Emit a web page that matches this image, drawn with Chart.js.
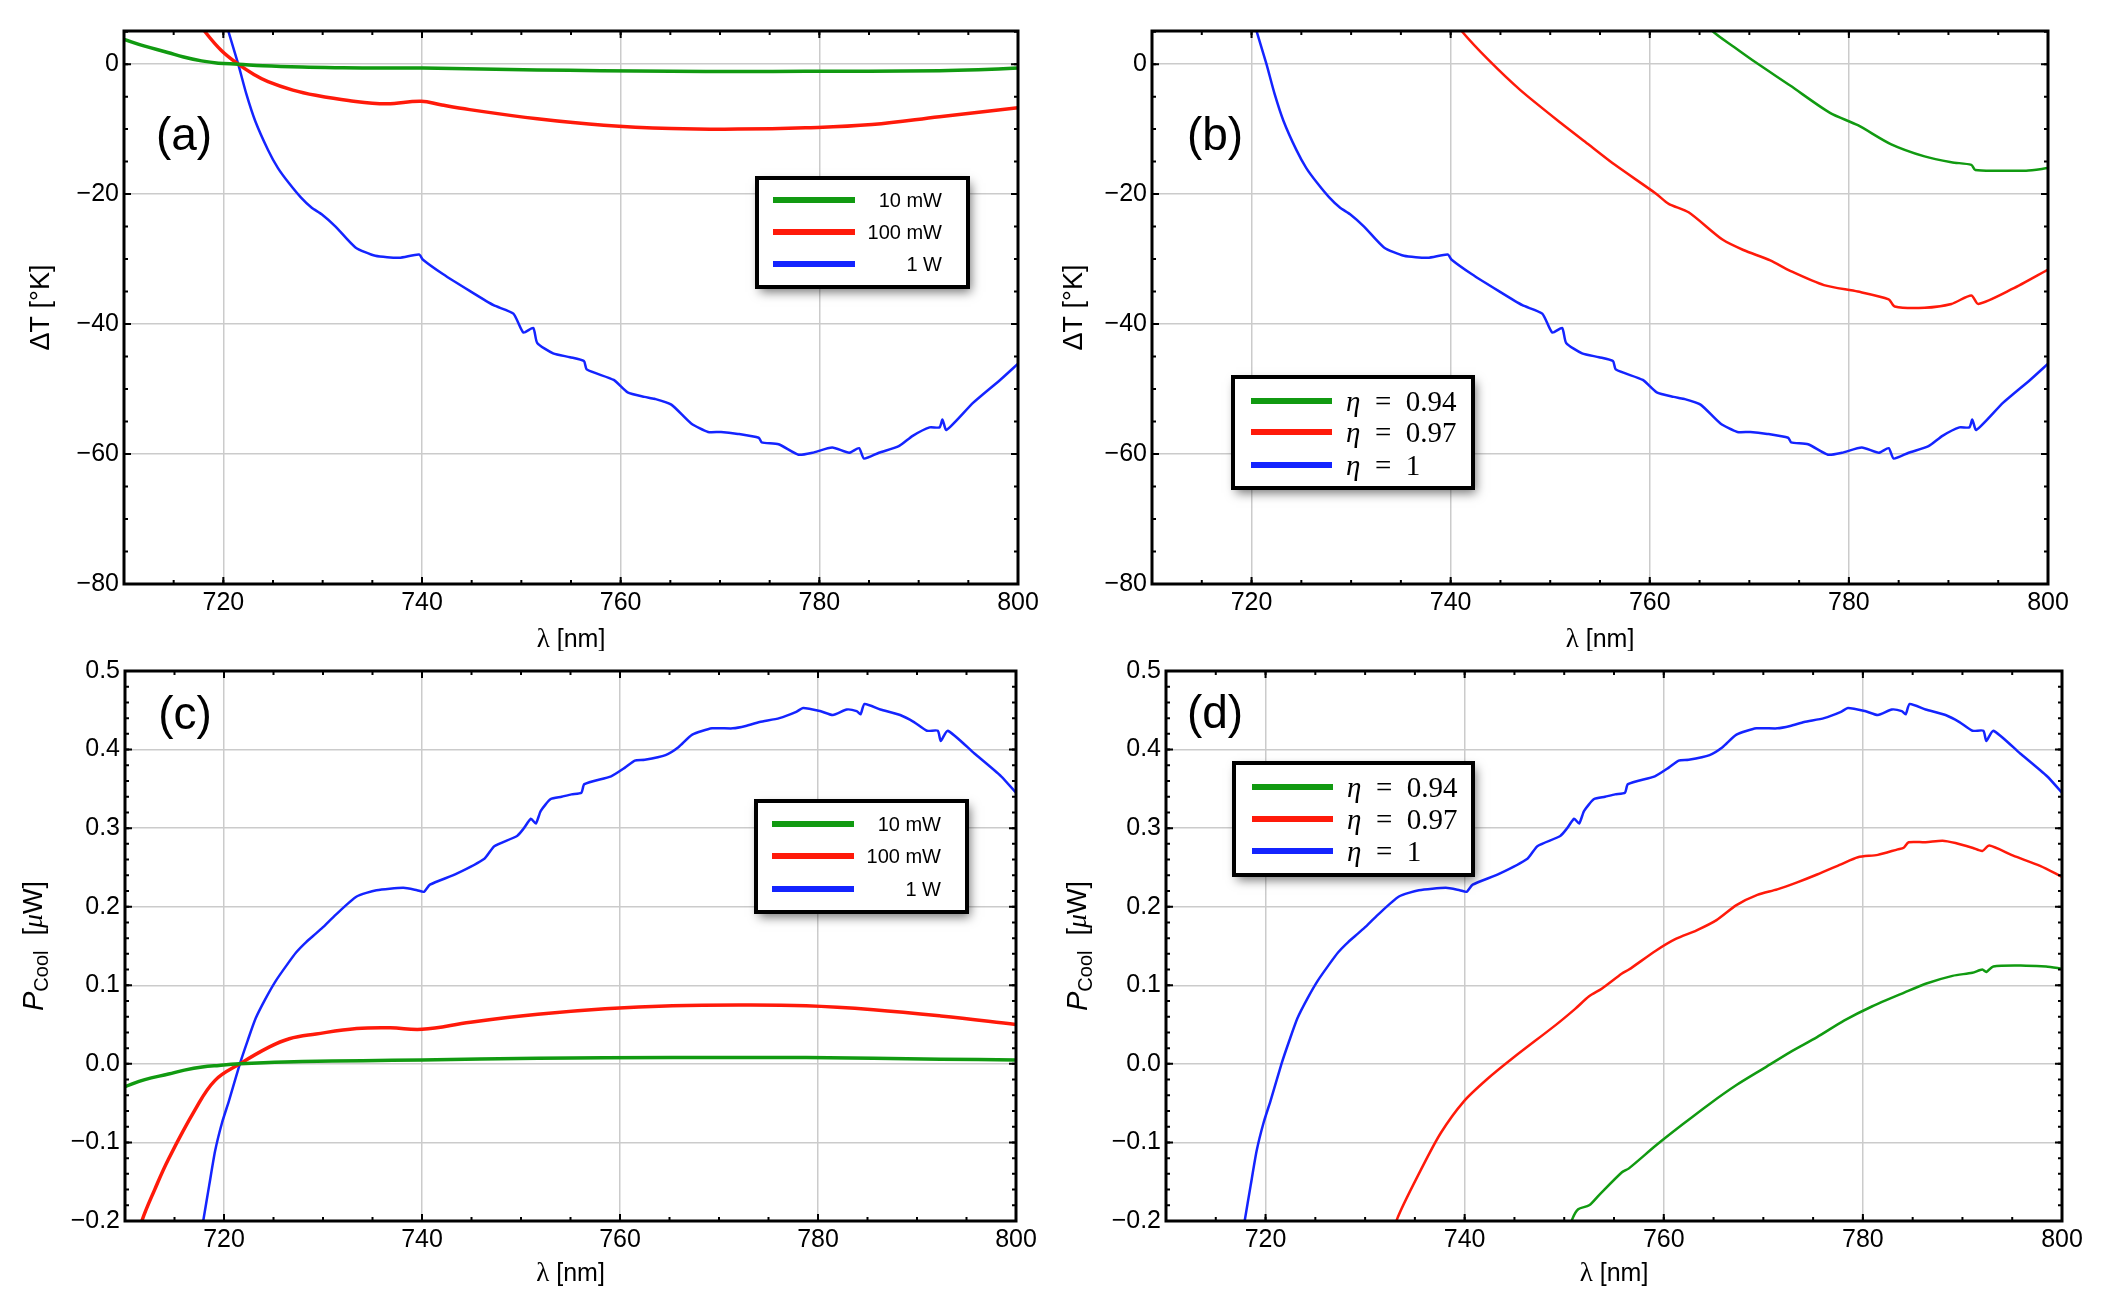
<!DOCTYPE html>
<html>
<head>
<meta charset="utf-8">
<script src="https://cdn.jsdelivr.net/npm/chart.js@4.4.0/dist/chart.umd.min.js"></script>
<style>
  body { margin: 0; background: #fff; width: 2104px; height: 1302px; position: relative; overflow: hidden; }
  canvas { position: absolute; }
</style>
</head>
<body>
<canvas id="chartA" width="1052" height="651" style="left:0;top:0"></canvas>
<canvas id="chartB" width="1052" height="651" style="left:1052px;top:0"></canvas>
<canvas id="chartC" width="1052" height="651" style="left:0;top:651px"></canvas>
<canvas id="chartD" width="1052" height="651" style="left:1052px;top:651px"></canvas>
<script>
/* axes */
const lamTicks = [720, 740, 760, 780, 800];
const dtTicks = [-80, -60, -40, -20, 0];
const pcTicks = [-0.2, -0.1, 0, 0.1, 0.2, 0.3, 0.4, 0.5];
const powerLabels = ["10 mW", "100 mW", "1 W"];
const etaLabels = ["η = 0.94", "η = 0.97", "η = 1"];

/* ΔT [K] vs λ [nm] */
const dtLam10mW = [710, 712, 714.4, 716, 717.8, 719.5, 721.5, 724, 727.9, 732, 736, 740.1, 746, 751.6, 758, 765.1, 772, 778.6, 785, 792.1, 796, 800];
const dt10mW = [3.8, 2.8, 1.8, 1.1, 0.5, 0.15, 0, -0.25, -0.45, -0.55, -0.6, -0.6, -0.75, -0.9, -1.0, -1.1, -1.15, -1.1, -1.1, -1.0, -0.85, -0.6];

const dtLam100mW = [716.5, 718.1, 719.8, 721.5, 723, 724.5, 727, 729.3, 732.6, 736.4, 739.9, 742, 744.8, 751.6, 758.3, 765.1, 771.8, 778.6, 785.3, 792.1, 800];
const dt100mW = [8.5, 5.1, 2.1, 0, -1.5, -2.7, -4.0, -4.8, -5.6, -6.1, -5.7, -6.3, -7.0, -8.4, -9.4, -9.9, -10.0, -9.8, -9.3, -8.1, -6.7];

const dtLam1W = [719.6, 720.5, 721.5, 722.3, 723.2, 724.5, 725.5, 726.6, 727.8, 728.9, 729.9, 731.3, 733.3, 735.3, 737.7, 739.7, 740.1, 742.1, 744.8, 747.2, 749.2, 750.2, 751.2, 751.6, 753.2, 754.9, 756.3, 756.6, 759.3, 760.7, 762.4, 763.4, 765.1, 767.1, 768.8, 770.1, 771.8, 773.9, 774.2, 775.9, 777.9, 779.3, 781.3, 783.0, 784.0, 784.5, 786.0, 788.0, 789.4, 791.1, 792.1, 792.4, 792.8, 795.5, 798.2, 800];
const dt1W = [10, 5.1, 0, -4.5, -8.7, -13.2, -16.0, -18.3, -20.5, -22.1, -23.1, -25.0, -28.2, -29.5, -29.8, -29.3, -30.1, -32.3, -34.9, -37.1, -38.4, -41.3, -40.6, -42.9, -44.5, -45.1, -45.7, -47.0, -48.6, -50.5, -51.2, -51.5, -52.4, -55.3, -56.6, -56.6, -56.9, -57.5, -58.2, -58.5, -60.1, -59.8, -59.0, -59.8, -59.1, -60.7, -59.8, -58.8, -57.2, -55.9, -55.9, -54.7, -56.3, -52.1, -48.6, -46.1];

const dtLamEta094 = [764.5, 766.3, 768.5, 770.7, 774.1, 778.1, 780.9, 784.2, 787.6, 790.3, 792.3, 792.7, 795.7, 797.8, 800];
const dtEta094 = [8.5, 5.1, 2.6, 0.2, -3.3, -7.5, -9.4, -12.3, -14.2, -15.1, -15.5, -16.3, -16.4, -16.4, -16.0];

const dtLamEta097 = [739.5, 741.1, 743.7, 747.0, 751.1, 753.8, 756.5, 760.6, 761.9, 763.9, 767.3, 769.4, 772.1, 774.1, 777.5, 780.9, 784.0, 784.6, 787.6, 790.3, 792.3, 793.0, 796.4, 800];
const dtEta097 = [8.5, 5.1, 0.8, -4.0, -9.1, -12.3, -15.5, -19.9, -21.5, -22.8, -27.0, -28.6, -30.2, -31.8, -34.0, -35.0, -36.2, -37.3, -37.5, -36.9, -35.6, -36.9, -34.6, -31.6];

/* P_cool [µW] vs λ [nm] */
const pcLam10mW = [710, 712, 714.4, 716, 717.8, 719.5, 721.6, 724, 727.9, 734, 740, 751.7, 765.3, 778.8, 792.4, 800];
const pc10mW = [-0.029, -0.02, -0.013, -0.008, -0.004, -0.002, 0, 0.0015, 0.003, 0.004, 0.005, 0.007, 0.008, 0.008, 0.006, 0.005];

const pcLam100mW = [710.8, 711.7, 713, 714.4, 717.1, 719.1, 721.6, 724.5, 726.6, 729.3, 733.4, 736.8, 740.0, 744.9, 751.7, 758.5, 765.3, 772.0, 778.8, 785.6, 792.4, 800];
const pc100mW = [-0.24, -0.2, -0.16, -0.121, -0.058, -0.021, 0, 0.021, 0.032, 0.038, 0.045, 0.046, 0.044, 0.053, 0.063, 0.070, 0.074, 0.075, 0.074, 0.069, 0.061, 0.050];

const pcLam1W = [717.4, 717.9, 718.5, 719.1, 719.8, 720.5, 721.6, 722.4, 723.2, 724.2, 725.2, 726.3, 727.3, 728.3, 729.3, 730.0, 731.3, 733.4, 735.4, 738.1, 739.5, 740.2, 740.8, 743.5, 746.3, 747.3, 749.6, 750.3, 751.0, 751.5, 752.0, 753.0, 754.1, 755.1, 756.1, 756.4, 759.1, 760.5, 761.5, 762.5, 764.6, 765.9, 767.3, 769.3, 771.4, 772.7, 774.1, 776.1, 777.8, 778.5, 780.2, 781.5, 782.9, 783.9, 784.3, 784.7, 786.3, 788.3, 789.7, 791.0, 792.1, 792.4, 793.1, 795.8, 798.5, 800];
const pc1W = [-0.237, -0.2, -0.155, -0.111, -0.075, -0.047, 0, 0.03, 0.058, 0.083, 0.105, 0.125, 0.142, 0.155, 0.166, 0.174, 0.190, 0.213, 0.221, 0.224, 0.221, 0.219, 0.228, 0.242, 0.261, 0.277, 0.290, 0.300, 0.312, 0.306, 0.322, 0.337, 0.340, 0.343, 0.345, 0.356, 0.366, 0.377, 0.386, 0.387, 0.393, 0.403, 0.419, 0.427, 0.427, 0.430, 0.435, 0.440, 0.448, 0.453, 0.449, 0.444, 0.451, 0.449, 0.445, 0.458, 0.451, 0.444, 0.435, 0.424, 0.424, 0.411, 0.424, 0.395, 0.366, 0.345];

const pcLamEta094 = [750.2, 750.8, 751.4, 752.5, 753.5, 755.8, 756.5, 759.2, 761.9, 764.6, 767.3, 770.0, 772.7, 775.4, 778.1, 780.9, 784.2, 786.3, 789.0, 791.0, 792.0, 792.4, 793.1, 796.4, 798.4, 800];
const pcEta094 = [-0.225, -0.198, -0.185, -0.180, -0.167, -0.138, -0.133, -0.104, -0.077, -0.051, -0.027, -0.006, 0.015, 0.034, 0.055, 0.073, 0.091, 0.102, 0.112, 0.116, 0.120, 0.117, 0.124, 0.125, 0.124, 0.121];

const pcLamEta097 = [732.6, 733.2, 735.6, 737.6, 739.9, 742.3, 745.0, 749.1, 751.1, 752.5, 753.8, 755.8, 756.5, 759.2, 761.2, 763.3, 765.3, 767.3, 769.4, 771.4, 773.4, 775.4, 777.8, 779.5, 781.5, 783.5, 784.1, 784.6, 786.3, 788.0, 789.3, 791.0, 792.0, 792.7, 795.1, 797.8, 800];
const pcEta097 = [-0.235, -0.198, -0.135, -0.088, -0.048, -0.019, 0.009, 0.049, 0.070, 0.086, 0.096, 0.115, 0.120, 0.144, 0.159, 0.170, 0.183, 0.202, 0.215, 0.222, 0.231, 0.241, 0.254, 0.263, 0.266, 0.273, 0.275, 0.282, 0.282, 0.284, 0.281, 0.275, 0.271, 0.278, 0.265, 0.252, 0.238];

const GREEN = "#119a11", RED = "#ff1a0a", BLUE = "#1424ff";
const SANS = "'Liberation Sans', Arial, sans-serif";
const SERIF = "'Liberation Serif', 'Times New Roman', serif";

const pts = (xs, ys) => xs.map((x, i) => ({ x, y: ys[i] }));
const minus = s => s.replace("-", "\u2212");

function line(label, xs, ys, color, width, tension) {
  return {
    label, data: pts(xs, ys), borderColor: color, borderWidth: width,
    pointRadius: 0, tension, clip: 0, fill: false
  };
}

/* Mathematica-like frame with inward ticks */
const frameTicks = {
  id: "frameTicks",
  afterDatasetsDraw(chart, args, o) {
    const { ctx, chartArea: a, scales: { x, y } } = chart;
    ctx.save();
    ctx.strokeStyle = "#000";
    const mark = (scale, step, len, horiz) => {
      for (let n = Math.ceil(scale.min / step - 1e-6); n * step <= scale.max + 1e-9; n++) {
        const p = scale.getPixelForValue(n * step);
        ctx.beginPath();
        if (horiz) {
          ctx.moveTo(p, a.bottom); ctx.lineTo(p, a.bottom - len);
          ctx.moveTo(p, a.top); ctx.lineTo(p, a.top + len);
        } else {
          ctx.moveTo(a.left, p); ctx.lineTo(a.left + len, p);
          ctx.moveTo(a.right, p); ctx.lineTo(a.right - len, p);
        }
        ctx.stroke();
      }
    };
    ctx.lineWidth = 2;
    mark(x, o.xMinor, 4, true);
    mark(y, o.yMinor, 4, false);
    mark(x, 20, 7, true);
    mark(y, o.yMajor, 7, false);
    ctx.lineWidth = 3;
    ctx.strokeRect(a.left, a.top, a.right - a.left, a.bottom - a.top);
    ctx.restore();
  }
};

/* axis titles, panel letter, framed legend */
const decorations = {
  id: "decorations",
  afterDraw(chart, args, o) {
    const { ctx, chartArea: a } = chart;
    ctx.save();
    ctx.fillStyle = "#000";
    ctx.textBaseline = "middle";

    // x title: λ [nm]
    const cx = (a.left + a.right) / 2, ty = a.bottom + o.xTitleOff;
    ctx.font = "27px " + SERIF;
    const w1 = ctx.measureText("λ").width;
    ctx.font = "25px " + SANS;
    const w2 = ctx.measureText(" [nm]").width;
    const sx = cx - (w1 + w2) / 2;
    ctx.textAlign = "left";
    ctx.font = "27px " + SERIF; ctx.fillText("λ", sx, ty);
    ctx.font = "25px " + SANS; ctx.fillText(" [nm]", sx + w1, ty);

    // y title, rotated
    ctx.save();
    ctx.translate(a.left - o.yTitleOff, (a.top + a.bottom) / 2);
    ctx.rotate(-Math.PI / 2);
    let total = 0;
    o.yTitle.forEach(p => { ctx.font = p.font; total += ctx.measureText(p.t).width; });
    let px = -total / 2;
    o.yTitle.forEach(p => {
      ctx.font = p.font;
      ctx.fillText(p.t, px, p.dy || 0);
      px += ctx.measureText(p.t).width;
    });
    ctx.restore();

    // panel letter
    ctx.textAlign = "center";
    ctx.font = "46px " + SANS;
    ctx.fillText(o.letter, a.left + o.letterPos[0], a.top + o.letterPos[1]);

    // legend box
    const L = o.legend;
    ctx.save();
    ctx.shadowColor = "rgba(0,0,0,0.55)";
    ctx.shadowBlur = 10; ctx.shadowOffsetX = 3; ctx.shadowOffsetY = 5;
    ctx.fillStyle = "#fff";
    ctx.fillRect(L.x, L.y, L.w, L.h);
    ctx.restore();
    ctx.lineWidth = 4; ctx.strokeStyle = "#000";
    ctx.strokeRect(L.x, L.y, L.w, L.h);
    chart.data.datasets.forEach((ds, i) => {
      const ly = L.y + L.rows[i];
      ctx.strokeStyle = ds.borderColor; ctx.lineWidth = 6;
      ctx.beginPath();
      ctx.moveTo(L.x + L.line[0], ly); ctx.lineTo(L.x + L.line[1], ly);
      ctx.stroke();
      ctx.fillStyle = "#000";
      if (L.eta) {
        // math-style spacing around "="
        ctx.textAlign = "left";
        const head = ds.label.slice(0, 1);
        const rest = ds.label.slice(1).replace(" = ", "\u2002=\u2002");
        ctx.font = "italic 29px " + SERIF;
        ctx.fillText(head, L.x + L.text, ly + 2);
        const hw = ctx.measureText(head).width;
        ctx.font = "29px " + SERIF;
        ctx.fillText(rest, L.x + L.text + hw, ly + 2);
      } else {
        ctx.textAlign = "right";
        ctx.font = "20px " + SANS;
        ctx.fillText(ds.label, L.x + L.text, ly + 1);
      }
    });
    ctx.restore();
  }
};

function scalesFor(yMin, yMax, yTicks, fmt, xH, yW) {
  const tickFont = { family: SANS, size: 25 };
  return {
    x: {
      type: "linear", min: 710, max: 800,
      afterBuildTicks: s => { s.ticks = lamTicks.map(v => ({ value: v })); },
      afterFit: s => { s.height = xH; },
      grid: { color: "#cbcbcb", lineWidth: 1.5, drawTicks: false },
      border: { display: false },
      ticks: { font: tickFont, color: "#000", padding: 4, maxRotation: 0, autoSkip: false, callback: v => String(v) }
    },
    y: {
      type: "linear", min: yMin, max: yMax,
      afterBuildTicks: s => { s.ticks = yTicks.map(v => ({ value: v })); },
      afterFit: s => { s.width = yW; },
      grid: { color: "#cbcbcb", lineWidth: 1.5, drawTicks: false },
      border: { display: false },
      ticks: { font: tickFont, color: "#000", padding: 5, autoSkip: false, callback: fmt }
    }
  };
}

const dtFmt = v => minus(String(v));
const pcFmt = v => minus(v.toFixed(1));

const dtTitle = [{ t: "ΔT [°K]", font: "27px " + SANS }];
const pcTitle = [
  { t: "P", font: "italic 29px " + SANS },
  { t: "Cool", font: "20px " + SANS, dy: 7 },
  { t: "  [", font: "27px " + SANS },
  { t: "μ", font: "italic 28px " + SERIF },
  { t: "W]", font: "27px " + SANS }
];

function makeChart(id, datasets, yMin, yMax, yTicks, fmt, pad, xH, yW, deco, frame) {
  return new Chart(document.getElementById(id), {
    type: "line",
    data: { datasets },
    options: {
      responsive: false, animation: false, devicePixelRatio: 1,
      layout: { padding: pad },
      scales: scalesFor(yMin, yMax, yTicks, fmt, xH, yW),
      plugins: { legend: { display: false }, tooltip: { enabled: false }, decorations: deco, frameTicks: frame }
    },
    plugins: [frameTicks, decorations]
  });
}

/* (a) */
makeChart("chartA", [
  line(powerLabels[0], dtLam10mW, dt10mW, GREEN, 3.5, 0.4),
  line(powerLabels[1], dtLam100mW, dt100mW, RED, 3.5, 0.4),
  line(powerLabels[2], dtLam1W, dt1W, BLUE, 2.5, 0.2)
], -80, 5.1, dtTicks, dtFmt, { left: 44, right: 34, top: 31, bottom: 0 }, 67, 80,
  { xTitleOff: 56, yTitleOff: 82, yTitle: dtTitle, letter: "(a)", letterPos: [60, 106],
    legend: { x: 757, y: 178, w: 211, h: 109, rows: [22, 54, 86], line: [16, 98], text: 185, eta: false } },
  { xMinor: 5, yMinor: 5, yMajor: 20 });

/* (b) */
makeChart("chartB", [
  line(etaLabels[0], dtLamEta094, dtEta094, GREEN, 2.5, 0.25),
  line(etaLabels[1], dtLamEta097, dtEta097, RED, 2.5, 0.25),
  line(etaLabels[2], dtLam1W, dt1W, BLUE, 2.5, 0.2)
], -80, 5.1, dtTicks, dtFmt, { left: 20, right: 56, top: 31, bottom: 0 }, 67, 80,
  { xTitleOff: 56, yTitleOff: 77, yTitle: dtTitle, letter: "(b)", letterPos: [63, 106],
    legend: { x: 181, y: 377, w: 240, h: 111, rows: [24, 55, 88], line: [18, 99], text: 113, eta: true } },
  { xMinor: 5, yMinor: 5, yMajor: 20 });

/* (c) */
makeChart("chartC", [
  line(powerLabels[0], pcLam10mW, pc10mW, GREEN, 3.5, 0.4),
  line(powerLabels[1], pcLam100mW, pc100mW, RED, 3.5, 0.4),
  line(powerLabels[2], pcLam1W, pc1W, BLUE, 2.5, 0.2)
], -0.2, 0.5, pcTicks, pcFmt, { left: 35, right: 36, top: 17, bottom: 0 }, 81, 90,
  { xTitleOff: 53, yTitleOff: 90, yTitle: pcTitle, letter: "(c)", letterPos: [60, 45],
    legend: { x: 756, y: 150, w: 211, h: 111, rows: [23, 55, 88], line: [16, 98], text: 185, eta: false } },
  { xMinor: 5, yMinor: 0.02, yMajor: 0.1 });

/* (d) */
makeChart("chartD", [
  line(etaLabels[0], pcLamEta094, pcEta094, GREEN, 2.5, 0.25),
  line(etaLabels[1], pcLamEta097, pcEta097, RED, 2.5, 0.25),
  line(etaLabels[2], pcLam1W, pc1W, BLUE, 2.5, 0.2)
], -0.2, 0.5, pcTicks, pcFmt, { left: 24, right: 42, top: 17, bottom: 0 }, 81, 90,
  { xTitleOff: 53, yTitleOff: 87, yTitle: pcTitle, letter: "(d)", letterPos: [49, 44],
    legend: { x: 182, y: 112, w: 239, h: 112, rows: [24, 56, 88], line: [18, 99], text: 113, eta: true } },
  { xMinor: 5, yMinor: 0.02, yMajor: 0.1 });
</script>
</body>
</html>
